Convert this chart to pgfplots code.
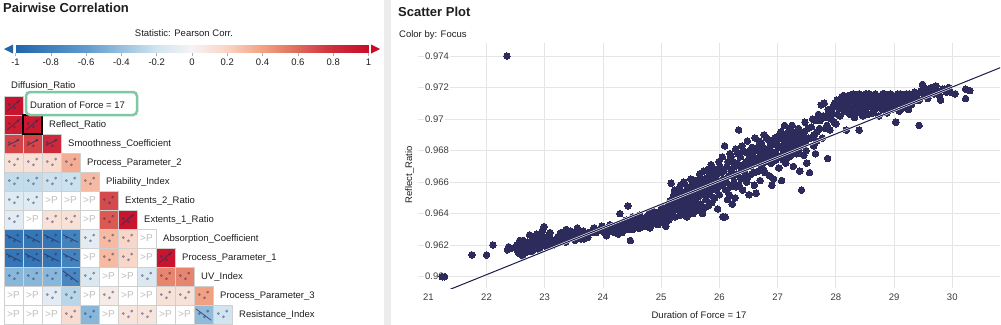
\documentclass[border=0pt]{standalone}
\usepackage{fontspec}
\setmainfont{Liberation Sans}
\usepackage{pgfplots}
\usepackage{pgfplotstable}
\pgfplotsset{compat=1.18}
\definecolor{navy}{RGB}{44,43,92}
\definecolor{linenavy}{RGB}{28,28,72}
\definecolor{gridgray}{RGB}{229,229,229}
\definecolor{sepgray}{RGB}{236,236,236}
\definecolor{boxgreen}{RGB}{125,200,165}
\definecolor{txt}{RGB}{30,30,30}
\definecolor{ticktxt}{RGB}{60,60,60}
\definecolor{cellborder}{RGB}{208,208,208}
\definecolor{cbblue}{RGB}{33,102,172}
\definecolor{cbred}{RGB}{200,12,40}
\pgfplotsset{colormap={rdbu}{rgb255(0cm)=(33,102,172); rgb255(4cm)=(95,155,205); rgb255(6cm)=(150,192,222); rgb255(8cm)=(209,229,240); rgb255(10cm)=(244,244,244); rgb255(12cm)=(250,212,195); rgb255(14cm)=(242,160,130); rgb255(16cm)=(222,105,90); rgb255(18cm)=(205,45,60); rgb255(20cm)=(200,12,40)}}
\newcommand\smallf{\fontsize{9.5bp}{11bp}\selectfont}
\newcommand\titlef{\fontsize{13bp}{15bp}\selectfont\bfseries}

% correlation cells: column, row, Pearson r
\pgfplotstableread{
c r v
0 1 0.95
0 2 0.90
1 2 0.93
0 3 0.72
1 3 0.72
2 3 0.82
0 4 0.12
1 4 0.12
2 4 0.15
3 4 0.35
0 5 -0.25
1 5 -0.25
2 5 -0.22
3 5 -0.22
4 5 0.30
0 6 -0.12
1 6 -0.12
5 6 0.70
0 7 -0.10
2 7 0.12
3 7 0.12
5 7 0.65
6 7 0.95
0 8 -0.88
1 8 -0.88
2 8 -0.88
3 8 -0.78
4 8 -0.10
5 8 0.30
6 8 0.18
0 9 -0.88
1 9 -0.88
2 9 -0.88
3 9 -0.78
5 9 0.30
6 9 0.18
8 9 0.95
0 10 -0.45
1 10 -0.45
2 10 -0.45
3 10 -0.75
4 10 -0.15
7 10 -0.15
8 10 0.50
9 10 0.50
2 11 -0.10
3 11 -0.28
5 11 0.05
8 11 0.12
9 11 0.12
10 11 0.40
3 12 0.15
4 12 -0.45
6 12 0.10
7 12 0.10
10 12 -0.42
11 12 -0.20
}\corrtable

% cells not significant (>P)
\pgfplotstableread{
c r
2 6
3 6
4 6
1 7
4 7
7 8
4 9
7 9
5 10
6 10
0 11
1 11
4 11
6 11
7 11
0 12
1 12
2 12
5 12
8 12
9 12
}\ptable

% scatter plot: Duration of Force = 17 vs Reflect_Ratio
\pgfplotstableread{
x y
21.24 0.9600
21.28 0.9600
21.75 0.96138
22.00 0.96138
22.11 0.96201
22.36 0.9617
22.38 0.9619
22.35 0.9740
22.42 0.9618
22.50 0.9619
22.52 0.9620
22.53 0.9617
22.55 0.9615
22.56 0.9621
22.57 0.9623
22.58 0.9618
22.60 0.9616
22.61 0.9620
22.62 0.9613
22.63 0.9623
22.64 0.9618
22.66 0.9615
22.67 0.9621
22.69 0.9617
22.70 0.9619
22.71 0.9622
22.72 0.9616
22.74 0.96265
22.75 0.9622
22.77 0.9619
22.78 0.9616
22.79 0.9624
22.80 0.9621
22.82 0.9625
22.84 0.9622
22.85 0.9619
22.86 0.9627
22.87 0.9624
22.88 0.9626
22.90 0.9621
22.91 0.9617
22.92 0.9624
22.93 0.9620
22.95 0.9626
22.96 0.9629
22.97 0.9623
22.99 0.96317
23.00 0.9625
23.02 0.9622
23.03 0.9619
23.04 0.9625
23.06 0.9623
23.08 0.9626
23.09 0.9628
23.10 0.9624
23.12 0.9622
23.14 0.9620
23.17 0.9623
23.20 0.9621
23.22 0.9625
23.23 0.9622
23.25 0.9625
23.26 0.9627
23.28 0.9628
23.29 0.9625
23.31 0.9623
23.33 0.9627
23.35 0.9626
23.36 0.9622
23.37 0.9630
23.40 0.9624
23.42 0.9627
23.44 0.9629
23.45 0.9626
23.48 0.9628
23.50 0.9625
23.52 0.9623
23.53 0.9627
23.56 0.9631
23.58 0.9626
23.59 0.9629
23.60 0.9626
23.62 0.9624
23.65 0.9627
23.66 0.9629
23.67 0.9624
23.70 0.9627
23.72 0.9626
23.74 0.9625
23.75 0.9628
23.79 0.9628
23.82 0.9629
23.85 0.9631
23.88 0.9628
23.92 0.9629
23.95 0.9630
23.98 0.9632
24.00 0.96307
24.02 0.9628
24.05 0.9630
24.06 0.9626
24.08 0.9629
24.10 0.9631
24.12 0.9633
24.14 0.9629
24.17 0.9631
24.19 0.9630
24.20 0.9628
24.23 0.9630
24.25 0.9633
24.26 0.9627
24.27 0.9632
24.29 0.9640
24.31 0.9629
24.33 0.9628
24.34 0.9634
24.36 0.9631
24.39 0.9633
24.40 0.9636
24.41 0.9630
24.43 0.96449
24.45 0.9634
24.46 0.9630
24.47 0.96229
24.48 0.9632
24.50 0.9635
24.51 0.9638
24.52 0.9630
24.53 0.9632
24.55 0.9637
24.57 0.9633
24.58 0.9635
24.60 0.9631
24.62 0.9635
24.63 0.9639
24.64 0.9631
24.65 0.9636
24.68 0.9634
24.69 0.9637
24.70 0.9632
24.72 0.9637
24.74 0.9635
24.75 0.9632
24.76 0.9638
24.78 0.9633
24.79 0.9640
24.81 0.9631
24.82 0.9639
24.83 0.9636
24.85 0.9642
24.87 0.9634
24.88 0.9641
24.90 0.9636
24.92 0.9639
24.94 0.9633
24.95 0.9635
24.96 0.9637
24.98 0.9641
25.00 0.9635
25.01 0.9644
25.02 0.9640
25.04 0.9637
25.05 0.9634
25.06 0.9643
25.08 0.9632
25.08 0.9638
25.10 0.9641
25.11 0.9645
25.12 0.9639
25.13 0.9636
25.15 0.9648
25.16 0.9644
25.17 0.96593
25.18 0.9640
25.20 0.9642
25.21 0.9650
25.22 0.9652
25.23 0.9655
25.24 0.9638
25.25 0.9646
25.26 0.9650
25.27 0.9643
25.28 0.9647
25.29 0.9644
25.30 0.9652
25.31 0.9656
25.32 0.9639
25.33 0.9658
25.34 0.9640
25.35 0.9649
25.36 0.9654
25.37 0.9644
25.38 0.9653
25.39 0.9660
25.40 0.9641
25.41 0.9647
25.42 0.9643
25.43 0.9651
25.44 0.9638
25.45 0.9657
25.46 0.9645
25.47 0.9655
25.48 0.9651
25.49 0.9642
25.50 0.9649
25.51 0.9662
25.52 0.9646
25.53 0.9658
25.54 0.9648
25.55 0.9640
25.56 0.9652
25.57 0.9655
25.58 0.9644
25.59 0.9661
25.60 0.9648
25.61 0.9658
25.62 0.9655
25.63 0.9642
25.64 0.9646
25.65 0.9651
25.66 0.9665
25.67 0.9662
25.68 0.9646
25.69 0.9658
25.70 0.9655
25.71 0.9640
25.72 0.9653
25.73 0.9667
25.74 0.96434
25.75 0.9662
25.76 0.9652
25.77 0.9649
25.78 0.9656
25.79 0.9660
25.80 0.9668
25.81 0.9645
25.82 0.9664
25.83 0.9660
25.84 0.9652
25.85 0.9655
25.86 0.9671
25.87 0.9647
25.88 0.9667
25.89 0.9657
25.90 0.9664
25.91 0.9660
25.92 0.9650
25.93 0.9668
25.94 0.9664
25.95 0.9655
25.96 0.9661
25.97 0.9643
25.98 0.9657
25.99 0.9673
26.00 0.9652
26.01 0.9670
26.02 0.9666
26.03 0.9658
26.04 0.9661
26.05 0.9676
26.06 0.9638
26.07 0.9662
26.08 0.9667
26.09 0.9683
26.10 0.9638
26.11 0.9655
26.12 0.9660
26.13 0.9670
26.14 0.9649
26.15 0.9673
26.16 0.9664
26.17 0.9652
26.18 0.9678
26.19 0.9657
26.20 0.9676
26.21 0.9668
26.22 0.9646
26.23 0.9664
26.24 0.9673
26.25 0.9660
26.26 0.9670
26.27 0.9650
26.28 0.9681
26.29 0.9657
26.30 0.9665
26.31 0.9672
26.32 0.9678
26.33 0.96931
26.34 0.9658
26.35 0.9670
26.36 0.9676
26.37 0.9662
26.38 0.9668
26.39 0.9683
26.40 0.9655
26.41 0.9680
26.42 0.9671
26.43 0.9667
26.44 0.9664
26.45 0.9679
26.46 0.9673
26.47 0.9660
26.48 0.9686
26.49 0.9663
26.50 0.9670
26.51 0.9652
26.52 0.9680
26.53 0.9676
26.54 0.9670
26.55 0.9665
26.56 0.9682
26.57 0.9677
26.58 0.9672
26.59 0.9666
26.60 0.9658
26.61 0.9688
26.62 0.9680
26.63 0.9653
26.64 0.9675
26.65 0.9682
26.66 0.9672
26.67 0.9667
26.68 0.9686
26.69 0.9679
26.70 0.9661
26.71 0.9675
26.72 0.9685
26.73 0.9671
26.74 0.9682
26.75 0.9676
26.76 0.9668
26.77 0.9690
26.78 0.9666
26.79 0.9678
26.80 0.9681
26.81 0.9688
26.82 0.9673
26.83 0.9677
26.84 0.9687
26.86 0.9664
26.87 0.9681
26.88 0.9684
26.89 0.9672
26.90 0.9658
26.91 0.9677
26.92 0.9684
26.93 0.9662
26.95 0.9688
26.96 0.9679
26.97 0.9674
26.99 0.9684
27.00 0.9689
27.01 0.9676
27.02 0.9669
27.04 0.9682
27.05 0.9688
27.06 0.9692
27.07 0.9661
27.08 0.9683
27.09 0.9678
27.10 0.9674
27.11 0.9686
27.12 0.9696
27.13 0.9690
27.14 0.9672
27.15 0.9680
27.16 0.9684
27.18 0.9691
27.19 0.9685
27.20 0.9676
27.21 0.9694
27.22 0.9688
27.23 0.9677
27.24 0.9681
27.25 0.9696
27.26 0.9690
27.27 0.9670
27.28 0.9681
27.29 0.9685
27.31 0.9692
27.32 0.9686
27.33 0.9678
27.34 0.9689
27.35 0.9680
27.36 0.9694
27.37 0.9691
27.38 0.9667
27.40 0.9683
27.41 0.9655
27.42 0.9686
27.43 0.9690
27.45 0.9677
27.46 0.9692
27.47 0.9698
27.48 0.9685
27.49 0.9680
27.50 0.9672
27.52 0.9694
27.53 0.9688
27.55 0.9666
27.57 0.9688
27.58 0.9695
27.60 0.9700
27.62 0.9683
27.63 0.9690
27.65 0.9678
27.65 0.9699
27.67 0.9686
27.68 0.9692
27.70 0.9703
27.72 0.9694
27.73 0.9699
27.75 0.9709
27.77 0.9688
27.78 0.9702
27.80 0.9710
27.82 0.9694
27.83 0.9701
27.85 0.9696
27.86 0.9675
27.87 0.9706
27.88 0.9705
27.90 0.9693
27.92 0.9700
27.93 0.9704
27.95 0.9708
27.97 0.9698
27.98 0.9710
28.00 0.9697
28.02 0.9712
28.03 0.9703
28.05 0.9707
28.07 0.9702
28.08 0.9709
28.10 0.9714
28.12 0.9712
28.13 0.9715
28.14 0.9705
28.17 0.9712
28.18 0.9693
28.19 0.9706
28.20 0.9709
28.22 0.9715
28.24 0.9703
28.25 0.9713
28.26 0.9711
28.28 0.9707
28.29 0.9704
28.30 0.9716
28.32 0.9701
28.33 0.9714
28.34 0.9710
28.36 0.9713
28.37 0.9708
28.38 0.9705
28.40 0.9693
28.40 0.9716
28.41 0.9704
28.42 0.9708
28.44 0.9711
28.45 0.9715
28.46 0.9702
28.48 0.9714
28.49 0.9709
28.50 0.9706
28.52 0.9716
28.53 0.9712
28.54 0.9710
28.56 0.9703
28.57 0.9716
28.58 0.9713
28.60 0.9708
28.61 0.9711
28.62 0.9715
28.64 0.9704
28.65 0.9707
28.66 0.9711
28.68 0.9716
28.69 0.9713
28.70 0.9707
28.72 0.9713
28.73 0.9709
28.74 0.9702
28.76 0.9710
28.77 0.9712
28.78 0.9715
28.80 0.9706
28.81 0.9716
28.82 0.9712
28.84 0.9716
28.85 0.9711
28.86 0.9708
28.88 0.9704
28.89 0.9715
28.90 0.9713
28.92 0.9710
28.93 0.9707
28.94 0.9716
28.96 0.9706
28.97 0.9715
28.98 0.9712
29.00 0.9708
29.01 0.9711
29.03 0.9698
29.05 0.9714
29.06 0.9716
29.07 0.9710
29.09 0.9705
29.10 0.9712
29.11 0.9716
29.13 0.9711
29.14 0.9715
29.15 0.9707
29.17 0.9714
29.18 0.9712
29.19 0.9709
29.21 0.9716
29.22 0.9714
29.23 0.9711
29.25 0.9706
29.26 0.9716
29.27 0.9713
29.29 0.9712
29.30 0.9709
29.33 0.9714
29.35 0.9717
29.38 0.9712
29.40 0.9716
29.43 0.9696
29.43 0.9712
29.46 0.9718
29.49 0.9722
29.52 0.9715
29.55 0.9719
29.58 0.9713
29.61 0.9717
29.64 0.9720
29.66 0.9719
29.69 0.9716
29.72 0.9721
29.75 0.9718
29.78 0.9715
29.80 0.9712
29.84 0.9719
29.87 0.9719
29.90 0.9717
29.94 0.9720
29.97 0.9717
30.05 0.9716
30.23 0.9719
30.23 0.9713
30.30 0.9718
}\scattable

\begin{document}
\begin{tikzpicture}
\fill[white] (0,0) rectangle (1001bp,-325bp);
\path[use as bounding box] (0,0) rectangle (1001bp,-325bp);
\fill[sepgray] (384bp,0) rectangle (391bp,-325bp);

% ---------- left panel ----------
\node[anchor=base west, inner sep=0, text=txt, font=\titlef] at (3bp,-12.5bp) {Pairwise Correlation};
\node[anchor=base, inner sep=0, text=txt, font=\smallf] at (184bp,-36.7bp) {Statistic: Pearson Corr.};

\fill[cbblue] (4bp,-49bp) -- (13bp,-44.5bp) -- (13bp,-53.5bp) -- cycle;
\fill[cbred] (380bp,-49bp) -- (371bp,-44.5bp) -- (371bp,-53.5bp) -- cycle;

\begin{axis}[
  at={(15.5bp,-53bp)}, anchor=south west,
  scale only axis, width=353bp, height=8bp,
  xmin=-1, xmax=1, ymin=0, ymax=1,
  axis line style={draw=none},
  ytick=\empty,
  xtick={-1,-0.8,-0.6,-0.4,-0.2,0,0.2,0.4,0.6,0.8,1},
  xticklabels={-1,-0.8,-0.6,-0.4,-0.2,0,0.2,0.4,0.6,0.8,1},
  xtick pos=left, tick align=outside, major tick length=3bp,
  tick style={gray!60, line width=0.5bp},
  xticklabel style={font=\smallf, text=txt, inner sep=0pt, anchor=north, yshift=-2.5bp},
  colormap name=rdbu, point meta min=-1, point meta max=1,
  clip=false,
]
\addplot[surf, shader=interp, mesh/rows=2, point meta=x] coordinates {
(-1,0) (-0.8,0) (-0.6,0) (-0.4,0) (-0.2,0) (0,0) (0.2,0) (0.4,0) (0.6,0) (0.8,0) (1,0)
(-1,1) (-0.8,1) (-0.6,1) (-0.4,1) (-0.2,1) (0,1) (0.2,1) (0.4,1) (0.6,1) (0.8,1) (1,1)
};
\end{axis}

\begin{axis}[
  at={(4bp,-96bp)}, anchor=north west,
  scale only axis, width=228bp, height=228bp,
  xmin=-0.5, xmax=11.5, ymin=0.5, ymax=12.5, y dir=reverse,
  hide axis, clip=false, clip marker paths=true,
  colormap name=rdbu, point meta min=-1, point meta max=1,
]
\addplot[scatter, only marks, mark=square*, mark size=9.5bp, scatter src=explicit,
  scatter/use mapped color={draw=cellborder, fill=mapped color, line width=0.6bp}]
  table[x=c, y=r, meta=v] {\corrtable};
\addplot[only marks, mark=square*, mark size=9.5bp,
  mark options={fill=white, draw=cellborder, line width=0.6bp},
  nodes near coords={>P}, nodes near coords align=center,
  every node near coord/.append style={font=\fontsize{10bp}{12bp}\selectfont, text=gray!50, inner sep=0pt}]
  table[x=c, y=r] {\ptable};
% thumbnail scatter blobs in each tested cell
\addplot[only marks, mark=*, mark size=1.2bp, mark options={draw=navy, fill=navy, opacity=0.4}]
  table[x expr=\thisrow{c}-0.22, y expr=\thisrow{r}-0.05] {\corrtable};
\addplot[only marks, mark=*, mark size=1.2bp, mark options={draw=navy, fill=navy, opacity=0.4}]
  table[x expr=\thisrow{c}+0.05, y expr=\thisrow{r}+0.12] {\corrtable};
\addplot[only marks, mark=*, mark size=1.2bp, mark options={draw=navy, fill=navy, opacity=0.4}]
  table[x expr=\thisrow{c}+0.22, y expr=\thisrow{r}-0.18] {\corrtable};
% thumbnail trend strokes in strongly correlated cells
\addplot[navy, opacity=0.75, line width=0.8bp, no marks] coordinates {(-0.35,1.3) (0.35,0.7)};
\addplot[navy, opacity=0.75, line width=0.8bp, no marks] coordinates {(-0.35,2.3) (0.35,1.7)};
\addplot[navy, opacity=0.75, line width=0.8bp, no marks] coordinates {(0.65,2.3) (1.35,1.7)};
\addplot[navy, opacity=0.75, line width=0.8bp, no marks] coordinates {(5.65,7.3) (6.35,6.7)};
\addplot[navy, opacity=0.75, line width=0.8bp, no marks] coordinates {(7.65,9.3) (8.35,8.7)};
\addplot[navy, opacity=0.75, line width=0.8bp, no marks] coordinates {(-0.3,3.1) (0.3,2.8)};
\addplot[navy, opacity=0.75, line width=0.8bp, no marks] coordinates {(0.7,3.1) (1.3,2.8)};
\addplot[navy, opacity=0.75, line width=0.8bp, no marks] coordinates {(1.7,3.1) (2.3,2.8)};
\addplot[navy, opacity=0.75, line width=0.8bp, no marks] coordinates {(-0.4,7.8) (0.4,8.2)};
\addplot[navy, opacity=0.75, line width=0.8bp, no marks] coordinates {(0.6,7.8) (1.4,8.2)};
\addplot[navy, opacity=0.75, line width=0.8bp, no marks] coordinates {(1.6,7.8) (2.4,8.2)};
\addplot[navy, opacity=0.75, line width=0.8bp, no marks] coordinates {(2.6,7.8) (3.4,8.2)};
\addplot[navy, opacity=0.75, line width=0.8bp, no marks] coordinates {(-0.4,8.8) (0.4,9.2)};
\addplot[navy, opacity=0.75, line width=0.8bp, no marks] coordinates {(0.6,8.8) (1.4,9.2)};
\addplot[navy, opacity=0.75, line width=0.8bp, no marks] coordinates {(1.6,8.8) (2.4,9.2)};
\addplot[navy, opacity=0.75, line width=0.8bp, no marks] coordinates {(2.6,8.8) (3.4,9.2)};
\addplot[navy, opacity=0.75, line width=0.8bp, no marks] coordinates {(2.6,9.7) (3.4,10.3)};
\addplot[navy, opacity=0.75, line width=0.8bp, no marks] coordinates {(9.6,11.7) (10.4,12.3)};
\draw[black, line width=1.5bp] (axis cs:0.5,1.5) rectangle (axis cs:1.5,2.5);
\end{axis}

\node[anchor=base west, inner sep=0, text=txt, font=\smallf] at (11bp,-88bp) {Diffusion\_Ratio};
\fill[white, rounded corners=4bp] (26bp,-92bp) rectangle (137bp,-115bp);
\draw[boxgreen, line width=2.5bp, rounded corners=4bp] (26bp,-92bp) rectangle (137bp,-115bp);
\node[anchor=base west, inner sep=0, text=txt, font=\smallf] at (30bp,-108.8bp) {Duration of Force = 17};
\node[anchor=base west, inner sep=0, text=txt, font=\smallf] at (49bp,-127.8bp) {Reflect\_Ratio};
\node[anchor=base west, inner sep=0, text=txt, font=\smallf] at (68bp,-146.8bp) {Smoothness\_Coefficient};
\node[anchor=base west, inner sep=0, text=txt, font=\smallf] at (87bp,-165.8bp) {Process\_Parameter\_2};
\node[anchor=base west, inner sep=0, text=txt, font=\smallf] at (106bp,-184.8bp) {Pliability\_Index};
\node[anchor=base west, inner sep=0, text=txt, font=\smallf] at (125bp,-203.8bp) {Extents\_2\_Ratio};
\node[anchor=base west, inner sep=0, text=txt, font=\smallf] at (144bp,-222.8bp) {Extents\_1\_Ratio};
\node[anchor=base west, inner sep=0, text=txt, font=\smallf] at (163bp,-241.8bp) {Absorption\_Coefficient};
\node[anchor=base west, inner sep=0, text=txt, font=\smallf] at (182bp,-260.8bp) {Process\_Parameter\_1};
\node[anchor=base west, inner sep=0, text=txt, font=\smallf] at (201bp,-279.8bp) {UV\_Index};
\node[anchor=base west, inner sep=0, text=txt, font=\smallf] at (220bp,-298.8bp) {Process\_Parameter\_3};
\node[anchor=base west, inner sep=0, text=txt, font=\smallf] at (239bp,-317.8bp) {Resistance\_Index};

% ---------- right panel ----------
\node[anchor=base west, inner sep=0, text=txt, font=\titlef] at (398bp,-16.5bp) {Scatter Plot};
\node[anchor=base west, inner sep=0, text=txt, font=\smallf] at (399bp,-37bp) {Color by: Focus};

\begin{axis}[
  at={(418bp,-288bp)}, anchor=south west,
  scale only axis, width=582bp, height=245bp,
  xmin=20.823, xmax=30.82, ymin=0.959283, ymax=0.974825,
  axis line style={draw=none},
  xtick={22,23,24,25,26,27,28,29,30},
  xticklabels={22,23,24,25,26,27,28,29,30},
  extra x ticks={21}, extra x tick labels={21}, extra x tick style={grid=none},
  ytick={0.96,0.962,0.964,0.966,0.968,0.97,0.972,0.974},
  yticklabels={0.96,0.962,0.964,0.966,0.968,0.97,0.972,0.974},
  grid=major, grid style={gridgray, line width=0.8bp},
  major tick length=0pt,
  tick label style={font=\smallf, text=ticktxt},
  yticklabel style={anchor=west, xshift=6bp, fill=white, inner sep=1bp},
  xticklabel style={anchor=north, inner sep=0pt, yshift=-6bp},
  clip=true, clip marker paths=true,
]
\addplot[only marks, mark=*, mark size=3.3bp, mark options={draw=navy, fill=navy, line width=0pt}] table[x=x, y=y] {\scattable};
\addplot[white, line width=2.2bp, no marks] coordinates {(20.8,0.958343) (30.9,0.973372)};
\addplot[linenavy, line width=1bp, no marks] coordinates {(20.8,0.958343) (30.9,0.973372)};
\end{axis}

\node[rotate=90, anchor=base, inner sep=0, text=txt, font=\smallf] at (412bp,-175bp) {Reflect\_Ratio};
\node[anchor=base, inner sep=0, text=txt, font=\smallf] at (699bp,-318bp) {Duration of Force = 17};
\end{tikzpicture}
\end{document}
